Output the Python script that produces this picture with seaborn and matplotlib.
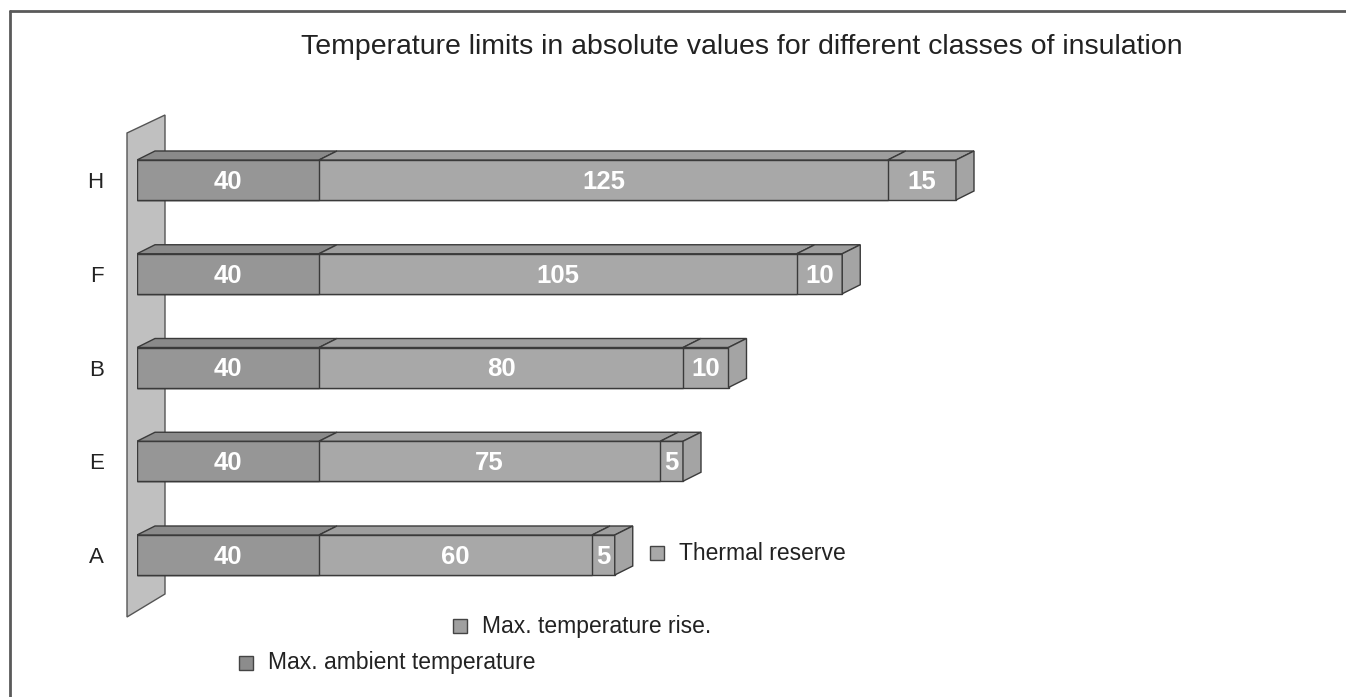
import numpy as np
import pandas as pd
import matplotlib
matplotlib.use('Agg')
import matplotlib.pyplot as plt
import seaborn as sns
from matplotlib.patches import Polygon, Rectangle
from matplotlib.lines import Line2D

# data
classes = ['H', 'F', 'B', 'E', 'A']
ambient = [40, 40, 40, 40, 40]
rise = [125, 105, 80, 75, 60]
reserve = [15, 10, 10, 5, 5]
legend_names = ['Thermal reserve', 'Max. temperature rise.', 'Max. ambient temperature']
title = 'Temperature limits in absolute values for different classes of insulation'

sns.set_style('white')
plt.rcParams['font.family'] = ['Liberation Sans', 'DejaVu Sans']

W, H = 1346, 697
fig = plt.figure(figsize=(W / 100, H / 100), dpi=100)

# pixel geometry of the drawing
px_per_deg = 4.55
left_px = 137
row_px = 93.75
first_row_px = 180
ax = fig.add_axes([left_px / W, 0, 1 - left_px / W, 1])

amb_col = '#969696'
rise_col = '#a8a8a8'
res_col = '#a8a8a8'
top_cols = ['#8a8a8a', '#9e9e9e', '#9e9e9e']
side_col = '#a4a4a4'
edge = '#3a3a3a'

df = pd.DataFrame({'cls': classes, 'ambient': ambient, 'rise': rise, 'reserve': reserve})
df['c1'] = df['ambient']
df['c2'] = df['c1'] + df['rise']
df['c3'] = df['c2'] + df['reserve']

bar_h = 40 / row_px

# wall behind the bars (decoration, in figure pixels)
wall = Polygon([(127 / W, 1 - 133 / H), (165 / W, 1 - 115 / H),
                (165 / W, 1 - 594 / H), (127 / W, 1 - 617 / H)],
               closed=True, facecolor='#c0c0c0', edgecolor='#555555', lw=1,
               transform=fig.transFigure, zorder=-1)
fig.patches.append(wall)
ax.set_facecolor('none')

for col, c in [('c3', res_col), ('c2', rise_col), ('c1', amb_col)]:
    sns.barplot(data=df, x=col, y='cls', order=classes, orient='h', color=c,
                saturation=1, width=bar_h, edgecolor=edge, linewidth=1,
                errorbar=None, ax=ax)

ax.set_xlim(0, (W - left_px) / px_per_deg)
ax.set_ylim((H - first_row_px) / row_px, -first_row_px / row_px)

# 3d depth of the boxes
dx = 18 / px_per_deg
dy = -9 / row_px
for i, row in df.iterrows():
    bounds = [0, row['c1'], row['c2'], row['c3']]
    vals = [row['ambient'], row['rise'], row['reserve']]
    y_top = i - bar_h / 2
    y_bot = i + bar_h / 2
    for k in range(3):
        a, b = bounds[k], bounds[k + 1]
        ax.add_patch(Polygon([(a, y_top), (b, y_top), (b + dx, y_top + dy), (a + dx, y_top + dy)],
                             closed=True, facecolor=top_cols[k], edgecolor=edge, lw=1, zorder=2))
        ax.text((a + b) / 2, i + 0.02, str(vals[k]), ha='center', va='center',
                color='white', fontweight='bold', fontsize=18.5, zorder=4)
    e = bounds[-1]
    ax.add_patch(Polygon([(e, y_top), (e + dx, y_top + dy), (e + dx, y_bot + dy), (e, y_bot)],
                         closed=True, facecolor=side_col, edgecolor=edge, lw=1, zorder=2))

ax.set_xticks([])
ax.set_xlabel('')
ax.set_ylabel('')
ax.tick_params(axis='y', length=0, pad=24, labelsize=16, labelcolor='#222222')
sns.despine(ax=ax, left=True, bottom=True)

fig.text(742 / W, 1 - 47 / H, title, ha='center', va='center', fontsize=20.5, color='#222222')

# staggered legend
leg_pos = [(657, 553), (460, 626), (246, 663)]
leg_cols = ['#a8a8a8', '#a0a0a0', '#8c8c8c']
for name, (lx, ly), c in zip(legend_names, leg_pos, leg_cols):
    fig.patches.append(Rectangle(((lx - 7) / W, 1 - (ly + 7) / H), 14 / W, 14 / H,
                                 facecolor=c, edgecolor='#444444', lw=1,
                                 transform=fig.transFigure))
    fig.text((lx + 22) / W, 1 - ly / H, name, ha='left', va='center', fontsize=16.5, color='#222222')

# frame
fig.add_artist(Line2D([10 / W, 1], [1 - 11 / H, 1 - 11 / H], transform=fig.transFigure, color='#5a5a5a', lw=2))
fig.add_artist(Line2D([10 / W, 10 / W], [0, 1 - 11 / H], transform=fig.transFigure, color='#5a5a5a', lw=2))

fig.savefig('out.png', dpi=100)
